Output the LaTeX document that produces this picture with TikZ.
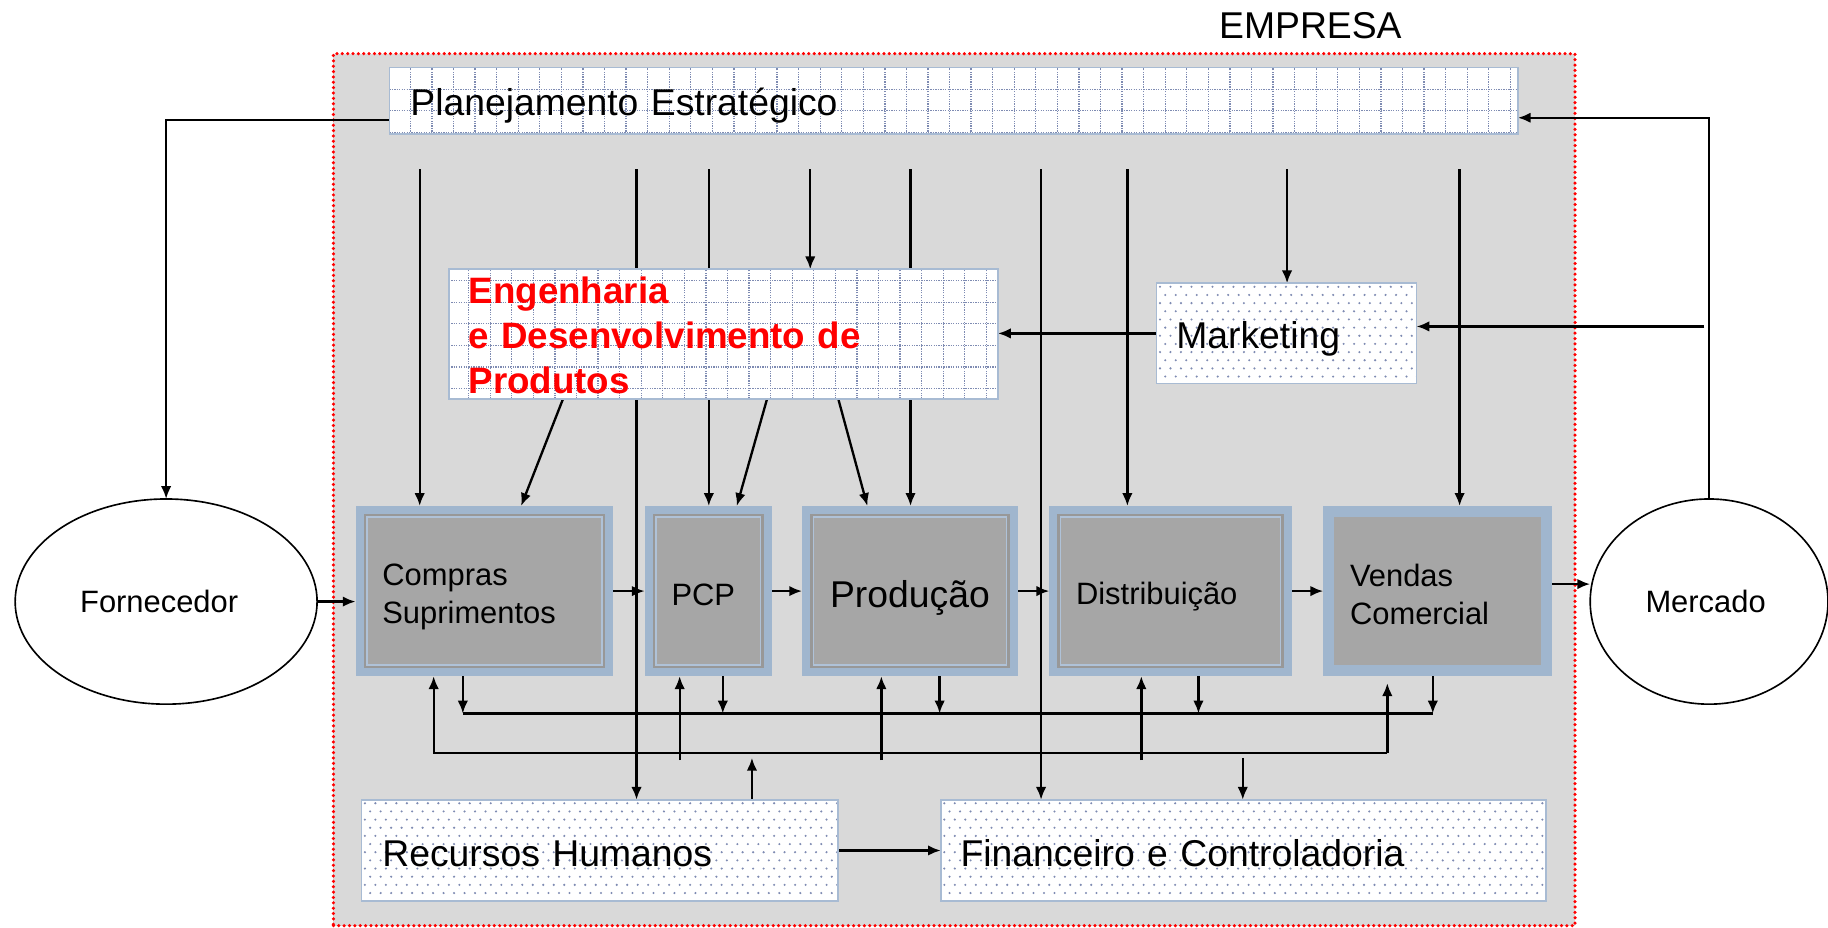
\documentclass[tikz,border=0pt]{standalone}
\usepackage{fontspec}
\setmainfont{Liberation Sans}
\usetikzlibrary{arrows.meta,shapes.geometric,calc}
\definecolor{bgray}{HTML}{D9D9D9}
\definecolor{band}{HTML}{A0B6CE}
\definecolor{lband}{HTML}{AFC2D8}
\definecolor{boxgray}{HTML}{A6A6A6}
\definecolor{edgegray}{HTML}{989898}
\definecolor{patc}{HTML}{7E8BB2}
\definecolor{pedge}{HTML}{A8BBD3}
\newcommand\lowr[2]{\raisebox{-#1}[\height][\depth]{#2}}
\pgfdeclarelayer{back}
\pgfdeclarelayer{lines}
\pgfsetlayers{back,lines,main}
\tikzset{
  big/.style={font=\fontsize{32}{38}\selectfont},
  small/.style={font=\fontsize{26.5}{33}\selectfont},
  arr/.style={line width=2pt, -{Latex[length=11pt,width=9pt]}},
  ln/.style={line width=2pt},
  gridbox/.style={draw=pedge, line width=1.5pt, fill=white, inner ysep=0pt, outer sep=0pt, align=left,
    path picture={\draw[patc, densely dotted, line width=1.1pt] (path picture bounding box.south west) grid[step=18.5pt] (path picture bounding box.north east);}},
  dotbox/.style={draw=pedge, line width=1.5pt, fill=white, inner ysep=0pt, outer sep=0pt, align=left,
    path picture={\foreach \i in {0,...,60}{\foreach \j in {0,2,...,14}{
        \fill[patc] ([xshift=\i*9pt+3pt, yshift=-\j*7pt-3pt]path picture bounding box.north west) circle (1pt);
        \fill[patc] ([xshift=\i*9pt+7.5pt, yshift=-\j*7pt-10pt]path picture bounding box.north west) circle (1pt);}}}},
  proc/.style={fill=band, inner ysep=0pt, outer sep=0pt, align=left,
    path picture={
      \fill[edgegray] ([xshift=7pt,yshift=-7pt]path picture bounding box.north west) rectangle ([xshift=-7pt,yshift=7pt]path picture bounding box.south east);
      \fill[lband] ([xshift=9pt,yshift=-9pt]path picture bounding box.north west) rectangle ([xshift=-9pt,yshift=9pt]path picture bounding box.south east);
      \fill[boxgray] ([xshift=10.5pt,yshift=-10.5pt]path picture bounding box.north west) rectangle ([xshift=-10.5pt,yshift=10.5pt]path picture bounding box.south east);}},
  procv/.style={fill=band, inner ysep=0pt, outer sep=0pt, align=left,
    path picture={
      \fill[boxgray] ([xshift=9.5pt,yshift=-9.5pt]path picture bounding box.north west) rectangle ([xshift=-9.5pt,yshift=9.5pt]path picture bounding box.south east);}},
  oval/.style={ellipse, draw, line width=1.4pt, fill=white, inner sep=0pt, outer sep=0pt}
}
\begin{document}
\begin{tikzpicture}[x=1pt,y=-1pt]
\useasboundingbox (0,0) rectangle (1568,796);
\begin{pgfonlayer}{back}
\node[fill=bgray, draw=red, line width=3pt, dash pattern=on 0pt off 4.6pt, line cap=round,
  minimum width=1065pt, minimum height=748pt, inner sep=0pt, outer sep=0pt] (ebox) at (818.5,420) {};
\end{pgfonlayer}
\node[big] (emp) at (1124,22) {EMPRESA};
\node[gridbox, big, minimum height=57pt, inner xsep=18pt, text width=932pt] (plan) at (818,86.5) {\lowr{4pt}{Planejamento Estratégico}};
\node[gridbox, minimum height=111pt, inner xsep=17pt, text width=437pt, text=red,
  font=\fontsize{31.5}{38.5}\selectfont\bfseries] (eng) at (620.5,286.5) {\lowr{1pt}{Engenharia}\\\lowr{1pt}{e Desenvolvimento de}\\\lowr{1pt}{Produtos}};
\node[dotbox, big, minimum height=86pt, inner xsep=17pt, text width=189pt] (mkt) at (1103.5,286) {\lowr{5pt}{Marketing}};
\node[proc, small, minimum height=146pt, inner xsep=23pt, text width=175pt] (comp) at (415.5,507) {\lowr{5pt}{Compras}\\\lowr{5pt}{Suprimentos}};
\node[proc, small, minimum height=146pt, inner xsep=23pt, text width=63pt] (pcp) at (607.5,507) {\lowr{3pt}{PCP}};
\node[proc, big, minimum height=146pt, inner xsep=24pt, text width=137pt] (prod) at (780.5,507) {\lowr{6pt}{Produção}};
\node[proc, small, minimum height=146pt, inner xsep=23pt, text width=162pt] (dist) at (1004,507) {\lowr{5pt}{Distribuição}};
\node[procv, small, minimum height=146pt, inner xsep=23pt, text width=150pt] (vend) at (1233,507) {\lowr{3pt}{Vendas}\\\lowr{3pt}{Comercial}};
\node[oval, small, minimum width=259pt, minimum height=176pt] (forn) at (142.5,516) {Fornecedor\hspace*{12pt}};
\node[oval, small, minimum width=204pt, minimum height=176pt] (merc) at (1466,516) {Mercado\hspace*{6pt}};
\node[dotbox, big, minimum height=87pt, inner xsep=18pt, text width=373pt] (rh) at (514.5,729.5) {\lowr{3pt}{Recursos Humanos}};
\node[dotbox, big, minimum height=87pt, inner xsep=17pt, text width=485pt] (fin) at (1066.5,729.5) {\lowr{2pt}{Financeiro e Controladoria}};

\begin{pgfonlayer}{lines}
% free ends
\coordinate (t1) at (360,145);
\coordinate (t2) at (546,145);
\coordinate (t3) at (608,145);
\coordinate (t4) at (695,145);
\coordinate (t5) at (781,145);
\coordinate (t6) at (893,145);
\coordinate (t7) at (967,145);
\coordinate (t8) at (1104,145);
\coordinate (t9) at (1252,145);
\coordinate (pl) at (334,103);
\coordinate (pr) at (1302,101);
\coordinate (m0) at (1462,280);
\coordinate (vm) at (1327,501);
\coordinate (d1s) at (483,342);
\coordinate (d1e) at (447,434);
\coordinate (d2s) at (658,342);
\coordinate (d2e) at (632,434);
\coordinate (d3s) at (719,342);
\coordinate (d3e) at (744,434);
\coordinate (a1) at (397,612);
\coordinate (a2) at (620,612);
\coordinate (a3) at (806,612);
\coordinate (a4) at (1028,612);
\coordinate (a5) at (1229,612);
\coordinate (b1) at (372,646);
\coordinate (b2) at (583,652);
\coordinate (b3) at (756,652);
\coordinate (b4) at (979,652);
\coordinate (b5) at (1190,646);
\coordinate (v6) at (1190,586);
\coordinate (r1) at (645,650);
\coordinate (f1) at (1066,650);
% top
\draw[arr] (plan.west |- pl) -| (forn.north);
\draw[arr] (merc.north) |- (plan.east |- pr);
\draw[arr] (m0) -- (m0 -| mkt.east);
\draw[arr] (mkt.west) -- (mkt.west -| eng.east);
% verticals from planning
\draw[arr] (t1) -- (t1 |- comp.north);
\draw[arr] (t2) -- (t2 |- rh.north);
\draw[arr] (t3) -- (t3 |- pcp.north);
\draw[arr] (t4) -- (t4 |- eng.north);
\draw[arr] (t5) -- (t5 |- prod.north);
\draw[arr] (t6) -- (t6 |- fin.north);
\draw[arr] (t7) -- (t7 |- dist.north);
\draw[arr] (t8) -- (t8 |- mkt.north);
\draw[arr] (t9) -- (t9 |- vend.north);
% engineering diagonals
\draw[arr] (d1s |- eng.south) -- (d1e |- comp.north);
\draw[arr] (d2s |- eng.south) -- (d2e |- pcp.north);
\draw[arr] (d3s |- eng.south) -- (d3e |- prod.north);
% main chain
\draw[arr] (forn.east) -- (forn.east -| comp.west);
\draw[arr] (comp.east) -- (pcp.west);
\draw[arr] (pcp.east) -- (prod.west);
\draw[arr] (prod.east) -- (dist.west);
\draw[arr] (dist.east) -- (vend.west);
\draw[arr] (vm) -- (vm -| merc.west);
% bus A
\draw[ln] (a1) -- (a5);
\draw[arr] (a1 |- comp.south) -- (a1);
\draw[arr] (a2 |- pcp.south) -- (a2);
\draw[arr] (a3 |- prod.south) -- (a3);
\draw[arr] (a4 |- dist.south) -- (a4);
\draw[arr] (a5 |- vend.south) -- (a5);
% bus B
\draw[arr] (b5) -- (b1) -- (b1 |- comp.south);
\draw[arr] (b5) -- (v6);
\draw[arr] (b2) -- (b2 |- pcp.south);
\draw[arr] (b3) -- (b3 |- prod.south);
\draw[arr] (b4) -- (b4 |- dist.south);
% bottom
\draw[arr] (r1 |- rh.north) -- (r1);
\draw[arr] (f1) -- (f1 |- fin.north);
\draw[arr] (rh.east) -- (fin.west);
\end{pgfonlayer}
\end{tikzpicture}
\end{document}
